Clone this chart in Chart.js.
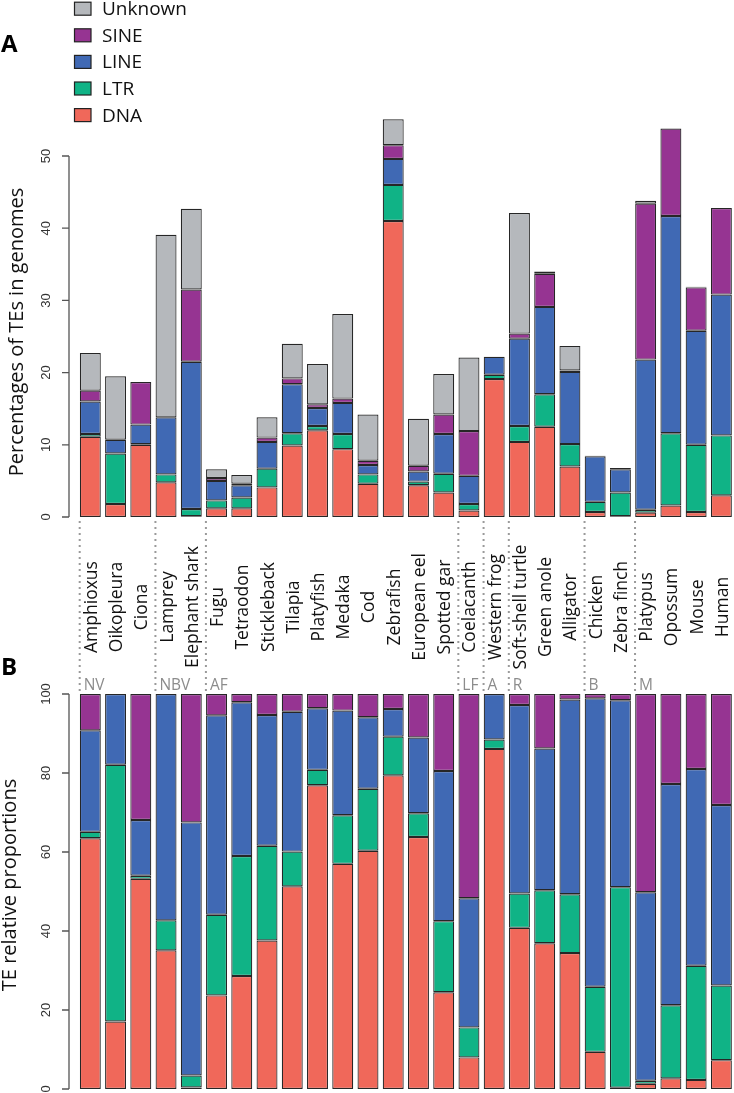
<!DOCTYPE html>
<html><head><meta charset="utf-8">
<script src="https://cdn.jsdelivr.net/npm/chart.js@4/dist/chart.umd.min.js"></script>
<style>
html,body{margin:0;padding:0;background:#fff;overflow:hidden;}
#wrap{position:relative;width:734px;height:1093px;}
canvas{position:absolute;left:0;top:0;}
</style></head><body>
<div id="wrap"><canvas id="cA" width="734" height="1093"></canvas><canvas id="cB" width="734" height="1093"></canvas></div>
<script>
const species = ['Amphioxus','Oikopleura','Ciona','Lamprey','Elephant shark','Fugu','Tetraodon','Stickleback','Tilapia','Platyfish','Medaka','Cod','Zebrafish','European eel','Spotted gar','Coelacanth','Western frog','Soft-shell turtle','Green anole','Alligator','Chicken','Zebra finch','Platypus','Opossum','Mouse','Human'];
const groupLabels = ['NV','NBV','AF','LF','A','R','B','M'];
const groupStarts = [0,3,5,15,16,17,20,22];
const typeNames = ['DNA','LTR','LINE','SINE','Unknown'];
const typeColors = ['#F0685A','#10B386','#4069B4','#963492','#B5B8BC'];

// Panel A: percentages of TEs in genomes (segment values)
const genomeDNA = [11.1,1.8,10.0,4.8,0.1,1.2,1.2,4.1,9.9,12.0,9.4,4.6,41.0,4.4,3.4,0.9,19.1,10.4,12.5,7.0,0.7,0.1,0.6,1.6,0.7,3.0];
const genomeLTR = [0.4,7.0,0.1,1.1,1.0,1.1,1.5,2.6,1.7,0.6,2.1,1.3,5.0,0.5,2.6,0.9,0.6,2.2,4.5,3.1,1.4,3.3,0.4,10.0,9.3,8.3];
const genomeLINE = [4.5,1.9,2.7,7.9,20.4,2.7,1.7,3.7,6.8,2.5,4.3,1.3,3.6,1.4,5.5,3.9,2.5,12.1,12.1,10.0,6.3,3.2,20.8,30.1,15.8,19.5];
const genomeSINE = [1.5,0,5.9,0,10.0,0.4,0.2,0.6,0.8,0.5,0.6,0.6,1.9,0.8,2.7,6.2,0,0.7,4.6,0.2,0.1,0.2,21.6,12.1,6.0,12.0];
const genomeUnknown = [5.2,8.8,0,25.3,11.2,1.2,1.2,2.8,4.8,5.6,11.7,6.4,3.6,6.5,5.6,10.2,0,16.7,0.3,3.4,0,0,0.4,0,0.1,0];

// Panel B: TE relative proportions
const propDNA = [63.5,17.1,53.2,35.1,0.4,23.7,28.6,37.6,51.3,76.9,57.0,60.3,79.4,63.8,24.5,8.0,86.1,40.8,36.9,34.4,9.4,0.3,1.3,2.7,2.3,7.3];
const propLTR = [1.6,65.0,0.8,7.6,3.0,20.4,30.4,24.0,8.8,3.9,12.3,15.7,9.8,6.0,18.0,7.6,2.4,8.7,13.4,14.9,16.5,50.8,0.8,18.5,28.9,18.9];
const propLINE = [25.7,17.9,14.1,57.3,64.1,50.5,38.9,33.1,35.4,15.6,26.5,18.1,7.0,19.2,38.0,32.7,11.5,47.7,35.9,49.3,73.0,47.3,47.7,56.0,49.8,45.7];
const propSINE = [9.2,0,31.9,0,32.5,5.4,2.1,5.3,4.5,3.6,4.2,5.9,3.8,11.0,19.5,51.7,0,2.8,13.8,1.4,1.1,1.6,50.2,22.8,19.0,28.1];

const ticksA = [0,10,20,30,40,50];
const ticksB = [0,20,40,60,80,100];

const FONT = '"Open Sans", "Noto Sans", sans-serif';
const TICKFONT = '"Liberation Sans", Arial, sans-serif';
const W = 734, H = 1093;
const PLOT_LEFT = 77.7;

function makeDatasets(arrs) {
  return arrs.map((d, i) => ({
    label: typeNames[i], data: d,
    backgroundColor: typeColors[i], borderColor: '#262626', borderWidth: 1.2,
    borderSkipped: false, categoryPercentage: 1.0, barPercentage: 0.83
  }));
}

function drawYAxis(chart, ticks, axisX) {
  const ctx = chart.ctx, y = chart.scales.y;
  ctx.save();
  ctx.strokeStyle = '#555'; ctx.lineWidth = 1.3;
  ctx.beginPath();
  ctx.moveTo(axisX, y.getPixelForValue(ticks[0]));
  ctx.lineTo(axisX, y.getPixelForValue(ticks[ticks.length-1]));
  ticks.forEach(t => { const py = y.getPixelForValue(t); ctx.moveTo(axisX-7, py); ctx.lineTo(axisX, py); });
  ctx.stroke();
  ctx.fillStyle = '#333'; ctx.font = '13px ' + TICKFONT;
  ctx.textAlign = 'center'; ctx.textBaseline = 'alphabetic';
  ticks.forEach(t => {
    const py = y.getPixelForValue(t);
    ctx.save(); ctx.translate(50, py); ctx.rotate(-Math.PI/2); ctx.fillText(String(t), 0, 0); ctx.restore();
  });
  ctx.restore();
}

function vText(ctx, text, x, y, font, color, baseline) {
  ctx.save(); ctx.translate(x, y); ctx.rotate(-Math.PI/2);
  ctx.font = font; ctx.fillStyle = color; ctx.textAlign = 'center'; ctx.textBaseline = baseline || 'alphabetic';
  ctx.fillText(text, 0, 0); ctx.restore();
}

const decoA = {
  id: 'decoA',
  afterDraw(chart) {
    const ctx = chart.ctx, x = chart.scales.x;
    ctx.save();
    const legendOrder = [4,3,2,1,0];
    legendOrder.forEach((k, r) => {
      const cy = 8.7 + r * 26.6;
      ctx.fillStyle = typeColors[k]; ctx.fillRect(74.5, cy - 6.5, 16.5, 13);
      ctx.strokeStyle = '#222'; ctx.lineWidth = 1.2; ctx.strokeRect(74.5, cy - 6.5, 16.5, 13);
      ctx.fillStyle = '#111'; ctx.font = '19px ' + FONT; ctx.textAlign = 'left'; ctx.textBaseline = 'middle';
      ctx.fillText(typeNames[k], 102, cy + 1);
    });
    ctx.font = 'bold 24px ' + FONT; ctx.fillStyle = '#000'; ctx.textBaseline = 'alphabetic';
    ctx.fillText('A', 1, 52);
    ctx.restore();
    drawYAxis(chart, ticksA, 69);
    vText(ctx, 'Percentages of TEs in genomes', 23, 332, '20px ' + FONT, '#111');
    species.forEach((s, i) => {
      vText(ctx, s, x.getPixelForValue(i) + 1.5, 607, '17.5px ' + FONT, '#111', 'middle');
    });
    const slot = x.getPixelForValue(1) - x.getPixelForValue(0);
    ctx.save();
    ctx.strokeStyle = '#9a9a9a'; ctx.lineWidth = 2; ctx.setLineDash([2, 4]);
    groupStarts.forEach((g, k) => {
      const lx = x.getPixelForValue(g) - slot/2 + 2;
      ctx.beginPath(); ctx.moveTo(lx, 521); ctx.lineTo(lx, 694); ctx.stroke();
      ctx.fillStyle = '#8c8c8c'; ctx.font = '15.5px ' + FONT; ctx.textAlign = 'left'; ctx.textBaseline = 'alphabetic';
      ctx.fillText(groupLabels[k], lx + 4, 690);
    });
    ctx.restore();
  }
};

const decoB = {
  id: 'decoB',
  afterDraw(chart) {
    const ctx = chart.ctx;
    ctx.save();
    ctx.font = 'bold 24px ' + FONT; ctx.fillStyle = '#000'; ctx.textAlign = 'left'; ctx.textBaseline = 'alphabetic';
    ctx.fillText('B', 1, 675);
    ctx.restore();
    drawYAxis(chart, ticksB, 69);
    vText(ctx, 'TE relative proportions', 16, 885, '20px ' + FONT, '#111');
  }
};

function baseOptions(yMax, padTop, padBottom) {
  return {
    responsive: false, animation: false, devicePixelRatio: 1,
    layout: { padding: { left: PLOT_LEFT, right: 0, top: padTop, bottom: padBottom } },
    plugins: { legend: { display: false }, tooltip: { enabled: false } },
    scales: {
      x: { type: 'category', stacked: true, display: false, offset: true },
      y: { stacked: true, display: false, min: 0, max: yMax }
    }
  };
}

new Chart(document.getElementById('cA'), {
  type: 'bar',
  data: { labels: species, datasets: makeDatasets([genomeDNA, genomeLTR, genomeLINE, genomeSINE, genomeUnknown]) },
  options: baseOptions(60, 517 - 6 * 72.2, H - 517),
  plugins: [decoA]
});

new Chart(document.getElementById('cB'), {
  type: 'bar',
  data: { labels: species, datasets: makeDatasets([propDNA, propLTR, propLINE, propSINE]) },
  options: baseOptions(100, 694, H - 1089),
  plugins: [decoB]
});
</script>
</body></html>
